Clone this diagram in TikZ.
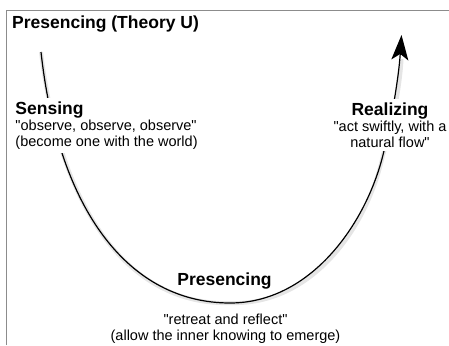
\documentclass[tikz,border=0pt]{standalone}
\usepackage{fontspec}
\setmainfont{Liberation Sans}
\usetikzlibrary{arrows.meta}
\tikzset{
    heading/.style = {font=\fontsize{17.5}{20}\selectfont\bfseries, inner sep=0pt},
    notetext/.style = {font=\fontsize{14.5}{16}\selectfont, fill=white, inner sep=4pt},
    ucurve/.style = {-{Stealth[length=25pt,width=17pt,inset=6pt]}, line width=1.2pt, black}, % the U
    ushadow/.style = {line width=4pt, black, opacity=0.1}, % soft shadow
    frameline/.style = {line width=0.8pt, black!45},
}
\newcommand{\headtext}[1]{{\fontsize{17.5}{16}\selectfont\bfseries #1}}
\newcommand{\dq}{\textquotedbl}

\begin{document}
\begin{tikzpicture}[x=1pt, y=-1pt]
  \useasboundingbox (0,0) rectangle (449,345);
  \draw[frameline] (6,345) |- (449,10.5);

  \coordinate (ustart) at (41,52);
  \coordinate (ubottom) at (230,303);
  \coordinate (ubend) at (383,155);
  \coordinate (utip) at (401.5,35);

  \draw[ushadow, shift={(2,3)}] (ustart) .. controls (58.6,212) and (130,303) .. (ubottom)
    .. controls (310,303) and (365.5,225) .. (ubend) .. controls (390.5,125) and (398.5,80) .. ([yshift=-24pt]utip);
  \draw[ucurve] (ustart) .. controls (58.6,212) and (130,303) .. (ubottom)
    .. controls (310,303) and (365.5,225) .. (ubend) .. controls (390.5,125) and (398.5,80) .. (utip);

  \node[heading, anchor=base west] (title) at (12,29) {Presencing (Theory U)};
  \node[notetext, align=left, anchor=north west] (sensing) at (11.3,97.3)
    {\headtext{Sensing}\\\dq observe, observe, observe\dq\\(become one with the world)};
  \node[notetext, align=center, anchor=north] (realizing) at (390,98.3)
    {\headtext{Realizing}\\\dq act swiftly, with a\\natural flow\dq};
  \node[heading, anchor=base] (presencing) at (224.5,285) {Presencing};
  \node[notetext, align=center, anchor=north] (presnote) at (225.5,309.4)
    {\dq retreat and reflect\dq\\(allow the inner knowing to emerge)};
\end{tikzpicture}
\end{document}
